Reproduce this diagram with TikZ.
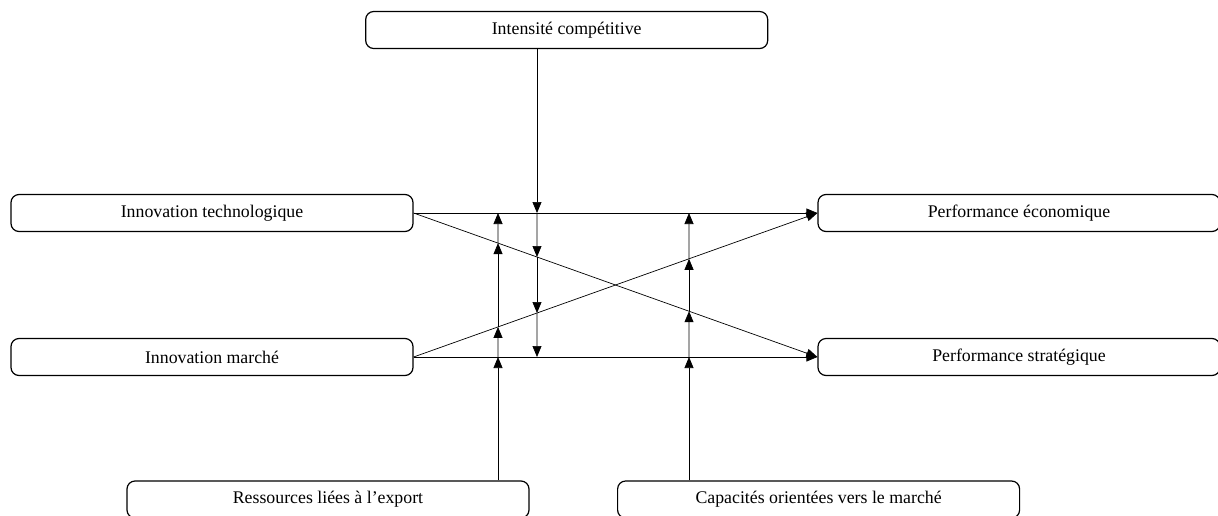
\documentclass[tikz,border=0pt]{standalone}
\usepackage{fontspec}
\setmainfont{Liberation Serif}
\usetikzlibrary{arrows.meta}

\tikzset{
  box/.style={draw, line width=1.2pt, rounded corners=8pt, minimum width=402pt,
    minimum height=37pt, font=\fontsize{17.8}{20}\selectfont},
  arr/.style={-{Triangle[length=11pt,width=9pt]}, line width=0.7pt},
}

\begin{document}
\begin{tikzpicture}[x=1pt,y=1pt]
  \useasboundingbox (0,0) rectangle (1218,-515);

  % Constructs
  \node[box] (ic) at (566.7,-30) {Intensité compétitive};
  \node[box] (it) at (212,-213) {Innovation technologique};
  \node[box] (im) at (212,-357) {Innovation marché};
  \node[box] (pe) at (1019,-213) {Performance économique};
  \node[box] (ps) at (1019,-357) {Performance stratégique};
  \node[box] (res) at (328,-499.5) {Ressources liées à l’export};
  \node[box] (cap) at (818.6,-499.5) {Capacités orientées vers le marché};

  % Direct effects
  \draw[arr] (it.east) -- (pe.west);
  \draw[arr] (it.east) -- (ps.west);
  \draw[arr] (im.east) -- (pe.west);
  \draw[arr] (im.east) -- (ps.west);

  % Moderator: competitive intensity
  \coordinate (ict) at ([xshift=-29.7pt]ic.south);
  \coordinate (ic1) at (ict |- it.east);
  \coordinate (ic4) at (ict |- im.east);
  \coordinate (ic2) at (intersection of ict--ic4 and it.east--ps.west);
  \coordinate (ic3) at (intersection of ict--ic4 and im.east--pe.west);
  \foreach \a/\b in {ict/ic1, ic1/ic2, ic2/ic3, ic3/ic4}
    \draw[arr] (\a) -- (\b);

  % Moderator: export resources
  \coordinate (rt) at ([xshift=170pt]res.north);
  \coordinate (r1) at (rt |- im.east);
  \coordinate (r4) at (rt |- it.east);
  \coordinate (r2) at (intersection of rt--r4 and im.east--pe.west);
  \coordinate (r3) at (intersection of rt--r4 and it.east--ps.west);
  \foreach \a/\b in {rt/r1, r1/r2, r2/r3, r3/r4}
    \draw[arr] (\a) -- (\b);

  % Moderator: market capabilities
  \coordinate (ct) at ([xshift=-129.6pt]cap.north);
  \coordinate (c1) at (ct |- im.east);
  \coordinate (c4) at (ct |- it.east);
  \coordinate (c2) at (intersection of ct--c4 and it.east--ps.west);
  \coordinate (c3) at (intersection of ct--c4 and im.east--pe.west);
  \foreach \a/\b in {ct/c1, c1/c2, c2/c3, c3/c4}
    \draw[arr] (\a) -- (\b);
\end{tikzpicture}
\end{document}
